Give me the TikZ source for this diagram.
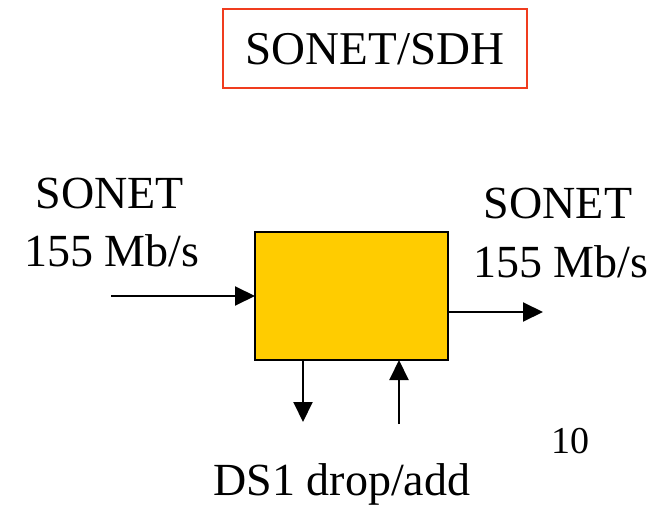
\documentclass[tikz,border=0pt]{standalone}
\usepackage{fontspec}
\setmainfont{Liberation Serif}
\usetikzlibrary{arrows.meta}
\definecolor{boxyellow}{HTML}{FFCC00}
\definecolor{titlered}{HTML}{F03C1E}
\begin{document}
\begin{tikzpicture}[x=1pt,y=-1pt,
  lbl/.style={anchor=base,inner sep=0pt,font=\fontsize{46}{56}\selectfont},
  flow/.style={line width=2pt,-{Triangle[length=20pt,width=19pt]}},
  mux/.style={draw=black,line width=1.5pt,fill=boxyellow}]
\useasboundingbox (0,0) rectangle (664,508);

% title frame
\node[draw=titlered,line width=2pt,minimum width=304pt,minimum height=79pt,inner sep=0pt]
  (title) at (375,48.5) {};
\node[lbl,font=\fontsize{47}{56}\selectfont] (titletext) at (375,65) {SONET/SDH};

% add/drop multiplexer
\draw[mux] (255,232) rectangle (448,360);
\coordinate (mW) at (255,296);
\coordinate (mE) at (448,312);
\coordinate (mSd) at (303,360);
\coordinate (mSu) at (399,360);

% line side labels
\node[lbl] (inA) at (110,208) {SONET};
\node[lbl] (inB) at (112,266) {155 Mb/s};
\node[lbl] (outA) at (558,218) {SONET};
\node[lbl] (outB) at (561,277) {155 Mb/s};
\node[lbl] (trib) at (342,495) {DS1 drop/add};
\node[lbl,font=\fontsize{38}{44}\selectfont] (page) at (570,453) {10};

% signal paths
\coordinate (src) at (111,296);
\coordinate (dst) at (543,312);
\coordinate (drop) at (303,422);
\coordinate (add) at (399,424);
\draw[flow] (src) -- (mW);
\draw[flow] (mE) -- (dst);
\draw[flow] (mSd) -- (drop);
\draw[flow] (add) -- (mSu);
\end{tikzpicture}
\end{document}
